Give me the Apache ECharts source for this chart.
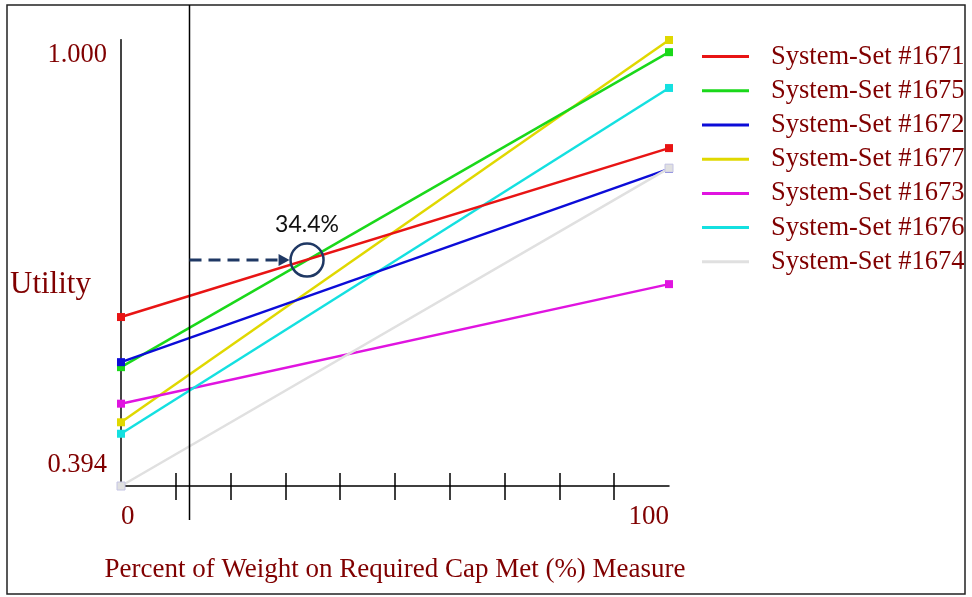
<!DOCTYPE html>
<html>
<head>
<meta charset="utf-8">
<script src="https://cdn.jsdelivr.net/npm/echarts@6/dist/echarts.min.js"></script>
<style>
html, body { margin: 0; padding: 0; background: #fff; }
#main { width: 972px; height: 597px; }
</style>
</head>
<body>
<div id="main"></div>
<script>
// data
var names = ['System-Set #1671', 'System-Set #1675', 'System-Set #1672', 'System-Set #1677',
             'System-Set #1673', 'System-Set #1676', 'System-Set #1674'];
var colors = ['#e81414', '#1ad81a', '#0c0cd8', '#e0d800', '#e014e0', '#14e0e0', '#e0e0e0'];
var xPoints = [0, 100];
var startValues = [0.630, 0.560, 0.567, 0.483, 0.509, 0.467, 0.394];
var endValues = [0.866, 1.000, 0.837, 1.017, 0.676, 0.950, 0.838];
var xLabelValues = [0, 100];
var xTickValues = [10, 20, 30, 40, 50, 60, 70, 80, 90];
var yLabelValues = [0.394, 1.000];
var cutX = 12.5;
var crossLabel = '34.4%';

var serif = 'Liberation Serif';
var darkRed = '#800000';
var navy = '#1f3864';
// drawing order, last name on top
var zOrder = [4, 3, 5, 2, 2, 2, 6];

var series = names.map(function (name, i) {
    return {
        name: name,
        type: 'line',
        data: [[xPoints[0], startValues[i]], [xPoints[1], endValues[i]]],
        symbol: 'rect',
        symbolSize: 8,
        showSymbol: true,
        lineStyle: { color: colors[i], width: 2.5 },
        itemStyle: i === 6 ? { color: colors[i], borderColor: '#c4c4e4', borderWidth: 1 } : { color: colors[i] },
        emphasis: { disabled: true },
        z: zOrder[i]
    };
});

var option = {
    animation: false,
    backgroundColor: '#fff',
    color: colors,
    grid: { left: 121, right: 303, top: 40, bottom: 111, containLabel: false },
    legend: {
        orient: 'vertical',
        left: 702,
        top: 39.5,
        padding: 0,
        icon: 'rect',
        itemWidth: 47,
        itemHeight: 3,
        itemGap: 0,
        itemStyle: { borderWidth: 0 },
        data: names,
        textStyle: {
            fontFamily: serif,
            fontSize: 26.5,
            color: darkRed,
            lineHeight: 34.2,
            padding: [0, 0, 0, 17]
        }
    },
    xAxis: [{
        type: 'value',
        min: 0,
        max: 100,
        interval: 10,
        position: 'bottom',
        name: 'Percent of Weight on Required Cap Met (%) Measure',
        nameLocation: 'middle',
        nameGap: 70,
        nameTextStyle: { fontFamily: serif, fontSize: 27, color: darkRed },
        axisLine: { lineStyle: { color: '#000', width: 1.5 } },
        axisTick: { customValues: xTickValues, length: 14, lineStyle: { color: '#000', width: 1.5 } },
        axisLabel: {
            customValues: xLabelValues,
            margin: 17,
            alignMinLabel: 'left',
            alignMaxLabel: 'right',
            fontFamily: serif,
            fontSize: 27,
            color: darkRed
        },
        splitLine: { show: false }
    }, {
        // ticks reaching up into the plot
        type: 'value',
        min: 0,
        max: 100,
        position: 'bottom',
        axisLine: { show: false },
        axisTick: { inside: true, customValues: xTickValues, length: 13, lineStyle: { color: '#000', width: 1.5 } },
        axisLabel: { show: false },
        splitLine: { show: false }
    }],
    yAxis: [{
        type: 'value',
        min: 0.394,
        max: 1.017,
        position: 'left',
        axisLine: { show: true, lineStyle: { color: '#000', width: 1.5 } },
        axisTick: { show: false },
        axisLabel: {
            customValues: yLabelValues,
            margin: 14,
            formatter: function (v) {
                return v < 0.5 ? '{low|' + v.toFixed(3) + '}' : '{top|' + v.toFixed(3) + '}';
            },
            rich: {
                top: { fontFamily: serif, fontSize: 26.5, color: darkRed, padding: [6, 0, 0, 0] },
                low: { fontFamily: serif, fontSize: 26.5, color: darkRed, padding: [0, 0, 42, 0] }
            }
        },
        splitLine: { show: false }
    }, {
        type: 'value',
        min: 0.394,
        max: 1.017,
        position: 'right',
        axisLine: { show: true, lineStyle: { color: '#444', width: 2 } },
        axisTick: { show: false },
        axisLabel: { show: false },
        splitLine: { show: false }
    }],
    series: series
};

var chart = echarts.init(document.getElementById('main'));
chart.setOption(option);

// where #1671 and #1675 cross
var r0 = startValues[0], r1 = endValues[0], g0 = startValues[1], g1 = endValues[1];
var crossX = 100 * (r0 - g0) / ((g1 - g0) - (r1 - r0));
var crossY = r0 + (r1 - r0) * crossX / 100;
var cutPx = chart.convertToPixel({ xAxisIndex: 0 }, cutX);
var crossPx = chart.convertToPixel({ xAxisIndex: 0, yAxisIndex: 0 }, [crossX, crossY]);
var cx = crossPx[0] - 2, cy = crossPx[1] + 1;
var rad = 16.5;
var tip = cx - rad - 1;

chart.setOption({
    graphic: [
        {
            type: 'rect', silent: true, z: 100,
            shape: { x: 7, y: 5, width: 958, height: 589 },
            style: { fill: 'none', stroke: '#222', lineWidth: 1.5 }
        },
        {
            type: 'line', silent: true, z: 100,
            shape: { x1: cutPx, y1: 5, x2: cutPx, y2: 520 },
            style: { stroke: '#000', lineWidth: 1.5 }
        },
        {
            type: 'text', silent: true, z: 100,
            x: 10, y: 285,
            style: { text: 'Utility', fontFamily: serif, fontSize: 31, fill: darkRed, verticalAlign: 'middle' }
        },
        {
            type: 'line', silent: true, z: 100,
            shape: { x1: cutPx, y1: cy, x2: tip - 9, y2: cy },
            style: { stroke: navy, lineWidth: 3, lineDash: [12, 7] }
        },
        {
            type: 'polygon', silent: true, z: 100,
            shape: { points: [[tip - 11, cy - 6], [tip, cy], [tip - 11, cy + 6]] },
            style: { fill: navy }
        },
        {
            type: 'circle', silent: true, z: 100,
            shape: { cx: cx, cy: cy, r: rad },
            style: { fill: 'none', stroke: navy, lineWidth: 2.5 }
        },
        {
            type: 'text', silent: true, z: 100,
            x: cx, y: cy - 35,
            style: { text: crossLabel, fontFamily: 'Lato', fontSize: 23, fill: '#111', align: 'center', verticalAlign: 'middle' }
        }
    ]
});
</script>
</body>
</html>
